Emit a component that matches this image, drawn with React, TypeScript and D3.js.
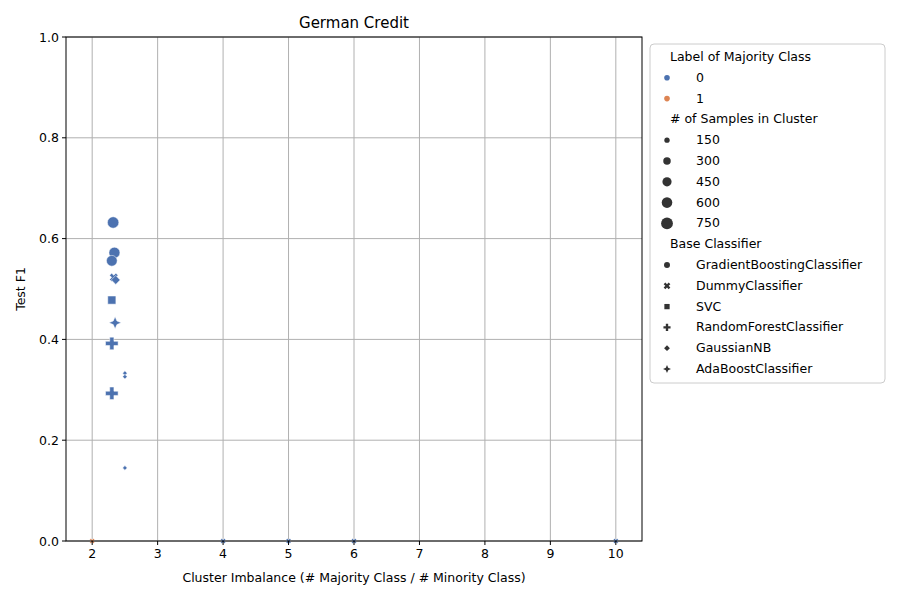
import React from 'react';
import * as d3 from 'd3';

const imbalance = [2.32, 2.34, 2.3, 2.33, 2.36, 2.3, 2.35, 2.3, 2.5, 2.5, 2.3, 2.5, 2.0, 4, 5, 6, 10];
const f1 = [0.632, 0.572, 0.556, 0.523, 0.518, 0.478, 0.433, 0.392, 0.333, 0.326, 0.293, 0.145, 0, 0, 0, 0, 0];
const samples = [700, 650, 620, 300, 450, 450, 450, 600, 120, 120, 600, 120, 110, 110, 110, 110, 110];
const classifier = [0, 0, 0, 1, 4, 2, 5, 3, 4, 4, 3, 4, 1, 1, 1, 1, 1];
const majority = [0, 0, 0, 0, 0, 0, 0, 0, 0, 0, 0, 0, 1, 0, 0, 0, 0];

const classifierNames = ['GradientBoostingClassifier', 'DummyClassifier', 'SVC', 'RandomForestClassifier', 'GaussianNB', 'AdaBoostClassifier'];
const sizeTicks = [150, 300, 450, 600, 750];
const xTicks = [2, 3, 4, 5, 6, 7, 8, 9, 10];
const yTicks = [0, 0.2, 0.4, 0.6, 0.8, 1.0];
const colors = ['#4c72b0', '#dd8452'];

const W = 900, H = 600;
const m = { left: 66, right: 258, top: 37, bottom: 59 };

const x = d3.scaleLinear().domain([1.6, 10.4]).range([m.left, W - m.right]);
const y = d3.scaleLinear().domain([0, 1]).range([H - m.bottom, m.top]);
const area = d3.scaleLinear().domain([0, 750]).range([0, 110]);

// 4-point star for AdaBoost
const star4 = {
  draw(ctx: any, size: number) {
    const r = Math.sqrt(size) * 0.75, s = r * 0.3;
    ctx.moveTo(0, -r); ctx.lineTo(s, -s); ctx.lineTo(r, 0); ctx.lineTo(s, s);
    ctx.lineTo(0, r); ctx.lineTo(-s, s); ctx.lineTo(-r, 0); ctx.lineTo(-s, -s); ctx.closePath();
  },
};
const symbols: any[] = [d3.symbolCircle, d3.symbolCross, d3.symbolSquare, d3.symbolCross, d3.symbolSquare, star4];
const rot = [0, 45, 0, 0, 45, 0];
const scaleK = [1, 1, 1, 1, 0.6, 1];
const path = (k: number, s: number) => d3.symbol(symbols[k], s * scaleK[k])() as string;

export default function App() {
  const font = 'DejaVu Sans, sans-serif';
  const lx = 660;
  const leg: React.ReactNode[] = [];
  let ly = 57;
  const step = 20.8;
  const title = (t: string) => {
    leg.push(<text key={'t' + ly} x={lx + 10} y={ly + 4} fontSize={12.5}>{t}</text>);
    ly += step;
  };
  title('Label of Majority Class');
  ['0', '1'].forEach((t, i) => {
    leg.push(<g key={'c' + i}><circle cx={lx + 7} cy={ly} r={2.8} fill={colors[i]} /><text x={lx + 36} y={ly + 4} fontSize={12.5}>{t}</text></g>);
    ly += step;
  });
  title('# of Samples in Cluster');
  sizeTicks.forEach((s, i) => {
    leg.push(<g key={'s' + i}><path d={path(0, area(s))} transform={`translate(${lx + 7},${ly})`} fill="#333" /><text x={lx + 36} y={ly + 4} fontSize={12.5}>{s}</text></g>);
    ly += step;
  });
  title('Base Classifier');
  classifierNames.forEach((c, i) => {
    leg.push(<g key={'b' + i}><path d={path(i, 28)} transform={`translate(${lx + 7},${ly}) rotate(${rot[i]})`} fill="#333" /><text x={lx + 36} y={ly + 4} fontSize={12.5}>{c}</text></g>);
    ly += step;
  });

  return (
    <svg width={W} height={H} style={{ position: 'absolute', left: 0, top: 0 }} fontFamily={font}>
      <rect width={W} height={H} fill="#fff" />
      {xTicks.map(t => <line key={'gx' + t} x1={x(t)} x2={x(t)} y1={y(0)} y2={y(1)} stroke="#b0b0b0" />)}
      {yTicks.map(t => <line key={'gy' + t} x1={m.left} x2={W - m.right} y1={y(t)} y2={y(t)} stroke="#b0b0b0" />)}
      {imbalance.map((v, i) => (
        <path key={i} d={path(classifier[i], area(samples[i]))}
          transform={`translate(${x(v)},${y(f1[i])}) rotate(${rot[classifier[i]]})`}
          fill={colors[majority[i]]} stroke="#fff" strokeWidth={0.5} />
      ))}
      <rect x={m.left} y={m.top} width={W - m.right - m.left} height={H - m.bottom - m.top} fill="none" stroke="#000" />
      {xTicks.map(t => (
        <g key={'x' + t}>
          <line x1={x(t)} x2={x(t)} y1={y(0)} y2={y(0) + 4} stroke="#000" />
          <text x={x(t)} y={y(0) + 17} fontSize={12.5} textAnchor="middle">{t}</text>
        </g>
      ))}
      {yTicks.map(t => (
        <g key={'y' + t}>
          <line x1={m.left - 4} x2={m.left} y1={y(t)} y2={y(t)} stroke="#000" />
          <text x={m.left - 7} y={y(t) + 4.5} fontSize={12.5} textAnchor="end">{t.toFixed(1)}</text>
        </g>
      ))}
      <text x={(m.left + W - m.right) / 2} y={28} fontSize={15} textAnchor="middle">German Credit</text>
      <text x={(m.left + W - m.right) / 2} y={582} fontSize={12.5} textAnchor="middle">Cluster Imbalance (# Majority Class / # Minority Class)</text>
      <text transform={`translate(25,${(m.top + H - m.bottom) / 2}) rotate(-90)`} fontSize={12.5} textAnchor="middle">Test F1</text>
      <rect x={650} y={44} width={235} height={339} rx={4} fill="#fff" stroke="#ccc" />
      {leg}
    </svg>
  );
}
